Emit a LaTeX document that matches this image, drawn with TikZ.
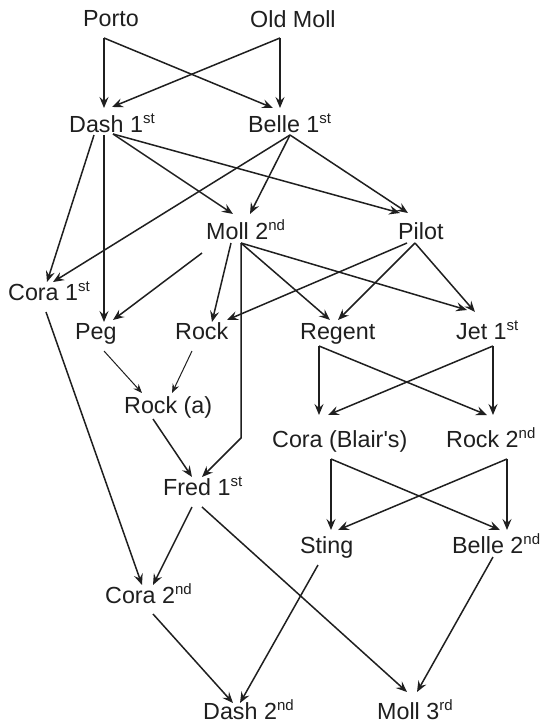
\documentclass[tikz,border=0pt]{standalone}
\usepackage{fontspec}
\setmainfont{Liberation Sans}
\usetikzlibrary{arrows.meta}
\newcommand\sups[1]{\raisebox{8.5pt}{\fontsize{15}{15}\selectfont #1}}
\tikzset{
  lbl/.style={anchor=base west, inner sep=0pt, text=black!88, font=\fontsize{23.3}{27}\selectfont},
  arr/.style={line width=1.5pt, draw=black!88, -{Stealth[length=11pt,width=9pt,inset=4pt]}},
  thinarr/.style={line width=1pt, draw=black!88, -{Stealth[length=9pt,width=7pt,inset=3pt]}},
}
\begin{document}
\begin{tikzpicture}[x=1pt,y=-1pt]
\useasboundingbox[fill=white] (0,0) rectangle (541,723);
% nodes
\node[lbl] (porto)   at (83,26)   {Porto};
\node[lbl] (oldmoll) at (250,27)  {Old Moll};
\node[lbl] (dash1)   at (69,132)  {Dash 1\sups{st}};
\node[lbl] (belle1)  at (248,132) {Belle 1\sups{st}};
\node[lbl] (moll2)   at (206,239) {Moll 2\sups{nd}};
\node[lbl] (pilot)   at (398,239) {Pilot};
\node[lbl] (cora1)   at (8,300)   {Cora 1\sups{st}};
\node[lbl] (peg)     at (75,339)  {Peg};
\node[lbl] (rock)    at (175,339) {Rock};
\node[lbl] (regent)  at (300,339) {Regent};
\node[lbl] (jet1)    at (456,339) {Jet 1\sups{st}};
\node[lbl] (rocka)   at (124,413) {Rock (a)};
\node[lbl] (corab)   at (272,447) {Cora (Blair\textquotesingle s)};
\node[lbl] (rock2)   at (446,447) {Rock 2\sups{nd}};
\node[lbl] (fred)    at (163,495) {Fred 1\sups{st}};
\node[lbl] (sting)   at (300,553) {Sting};
\node[lbl] (belle2)  at (452,553) {Belle 2\sups{nd}};
\node[lbl] (cora2)   at (105,603) {Cora 2\sups{nd}};
\node[lbl] (dash2)   at (203,719) {Dash 2\sups{nd}};
\node[lbl] (moll3)   at (377,719) {Moll 3\sups{rd}};
% connectors
\draw[arr] ([shift={(21,12)}]porto.base west) -- ([shift={(35,-24)}]dash1.base west);
\draw[arr] ([shift={(21,12)}]porto.base west) -- ([shift={(25,-24)}]belle1.base west);
\draw[arr] ([shift={(30,11)}]oldmoll.base west) -- ([shift={(43,-25)}]dash1.base west);
\draw[arr] ([shift={(30,11)}]oldmoll.base west) -- ([shift={(32,-24)}]belle1.base west);
\draw[arr] ([shift={(25,3)}]dash1.base west) -- ([shift={(39,-18)}]cora1.base west);
\draw[arr] ([shift={(35,3)}]dash1.base west) -- ([shift={(29,-17)}]peg.base west);
\draw[arr] ([shift={(44,2)}]dash1.base west) -- ([shift={(27,-25)}]moll2.base west);
\draw[arr] ([shift={(44,2)}]dash1.base west) -- ([shift={(2,-26)}]pilot.base west);
\draw[arr] ([shift={(42,3)}]belle1.base west) -- ([shift={(45,-18)}]cora1.base west);
\draw[arr] ([shift={(42,3)}]belle1.base west) -- ([shift={(44,-25)}]moll2.base west);
\draw[arr] ([shift={(42,3)}]belle1.base west) -- ([shift={(10,-26)}]pilot.base west);
\draw[arr] ([shift={(-4,14)}]moll2.base west) -- ([shift={(38,-19)}]peg.base west);
\draw[arr] ([shift={(25,4)}]moll2.base west) -- ([shift={(37,-17)}]rock.base west);
\draw[arr] ([shift={(35,4)}]moll2.base west) -- ++(0,195) -- ([shift={(39,-18)}]fred.base west);
\draw[arr] ([shift={(35,4)}]moll2.base west) -- ([shift={(30,-19)}]regent.base west);
\draw[arr] ([shift={(35,4)}]moll2.base west) -- ([shift={(11,-29)}]jet1.base west);
\draw[arr] ([shift={(9,4)}]pilot.base west) -- ([shift={(52,-19)}]rock.base west);
\draw[arr] ([shift={(17,4)}]pilot.base west) -- ([shift={(38,-19)}]regent.base west);
\draw[arr] ([shift={(17,4)}]pilot.base west) -- ([shift={(19,-27)}]jet1.base west);
\draw[arr] ([shift={(38,12)}]cora1.base west) -- ([shift={(37,-18)}]cora2.base west);
\draw[thinarr] ([shift={(29,12)}]peg.base west) -- ([shift={(18,-20)}]rocka.base west);
\draw[thinarr] ([shift={(17,12)}]rock.base west) -- ([shift={(48,-20)}]rocka.base west);
\draw[arr] ([shift={(29,6)}]rocka.base west) -- ([shift={(29,-18)}]fred.base west);
\draw[arr] ([shift={(19,7)}]regent.base west) -- ([shift={(47,-32)}]corab.base west);
\draw[arr] ([shift={(19,7)}]regent.base west) -- ([shift={(41,-32)}]rock2.base west);
\draw[arr] ([shift={(37,7)}]jet1.base west) -- ([shift={(56,-32)}]corab.base west);
\draw[arr] ([shift={(37,7)}]jet1.base west) -- ([shift={(47,-32)}]rock2.base west);
\draw[arr] ([shift={(59,12)}]corab.base west) -- ([shift={(31,-23)}]sting.base west);
\draw[arr] ([shift={(59,12)}]corab.base west) -- ([shift={(48,-23)}]belle2.base west);
\draw[arr] ([shift={(61,12)}]rock2.base west) -- ([shift={(38,-23)}]sting.base west);
\draw[arr] ([shift={(61,12)}]rock2.base west) -- ([shift={(55,-23)}]belle2.base west);
\draw[arr] ([shift={(29,12)}]fred.base west) -- ([shift={(48,-18)}]cora2.base west);
\draw[arr] ([shift={(39,12)}]fred.base west) -- ([shift={(30,-27)}]moll3.base west);
\draw[arr] ([shift={(18,12)}]sting.base west) -- ([shift={(37,-16)}]dash2.base west);
\draw[arr] ([shift={(41,4)}]belle2.base west) -- ([shift={(40,-27)}]moll3.base west);
\draw[arr] ([shift={(48,11)}]cora2.base west) -- ([shift={(30,-16)}]dash2.base west);
\end{tikzpicture}
\end{document}
